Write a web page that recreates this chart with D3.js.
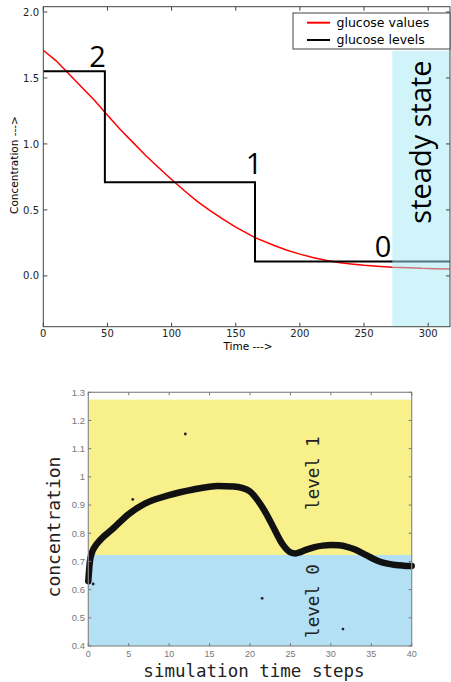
<!DOCTYPE html>
<html>
<head>
<meta charset="utf-8">
<script src="https://cdn.jsdelivr.net/npm/d3@7"></script>
<style>
  html, body { margin: 0; padding: 0; background: #fff; }
  svg { display: block; }
</style>
</head>
<body>
<svg id="chart" width="451" height="682"></svg>
<script>
// ---------- Top chart data ----------
const glucoseTime  = [0, 10, 20, 30, 40, 48, 60, 70, 80, 90, 100, 110, 120, 130, 140, 150, 165, 180, 190, 200, 210, 220, 230, 240, 250, 260, 272, 285, 295, 305, 317];
const glucoseValue = [1.71, 1.63, 1.53, 1.43, 1.33, 1.24, 1.11, 1.01, 0.91, 0.82, 0.73, 0.645, 0.565, 0.495, 0.43, 0.37, 0.29, 0.23, 0.195, 0.165, 0.14, 0.118, 0.102, 0.09, 0.08, 0.073, 0.066, 0.062, 0.057, 0.055, 0.053];
const levelTimes   = [0, 48, 165, 317];
const levelValues  = [1.55, 0.71, 0.11];
const levelLabels  = ["2", "1", "0"];
const steadyStart  = 272;
const topXTicks = [0, 50, 100, 150, 200, 250, 300];
const topYTicks = [0.0, 0.5, 1.0, 1.5, 2.0];
const legendNames = ["glucose values", "glucose levels"];

// ---------- Bottom chart data ----------
const simTime  = [0, 0.2, 0.5, 0.8, 1.5, 3, 5, 7, 10, 13, 16, 18, 19, 20, 21, 22, 23, 24, 25, 25.6, 26, 27, 28, 29, 30, 31, 32, 33, 34, 35, 36, 37, 38, 39, 40];
const simConc  = [0.63, 0.70, 0.735, 0.752, 0.777, 0.815, 0.868, 0.905, 0.935, 0.955, 0.968, 0.966, 0.961, 0.948, 0.915, 0.87, 0.815, 0.762, 0.732, 0.728, 0.731, 0.742, 0.751, 0.756, 0.758, 0.757, 0.752, 0.742, 0.728, 0.713, 0.70, 0.692, 0.687, 0.685, 0.684];
const outlierTime = [0.6, 5.5, 12.0, 21.5, 31.5];
const outlierConc = [0.62, 0.92, 1.152, 0.569, 0.46];
const bandLevels = [0.4, 0.723, 1.274];
const bandNames  = ["level 0", "level 1"];
const botXTicks = [0, 5, 10, 15, 20, 25, 30, 35, 40];
const botYTicks = [0.4, 0.5, 0.6, 0.7, 0.8, 0.9, 1.0, 1.1, 1.2, 1.3];

const svg = d3.select("#chart");

// ================= TOP CHART =================
{
  const L = 43.3, R = 450, T = 6.7, B = 326.7;
  const x = d3.scaleLinear().domain([0, 317]).range([L, R]);
  const y = d3.scaleLinear().domain([-0.385, 2.04]).range([B, T]);
  const g = svg.append("g");

  const redLine = d3.line().x((d, i) => x(glucoseTime[i])).y(d => y(d));
  g.append("path").datum(glucoseValue)
    .attr("d", redLine).attr("fill", "none")
    .attr("stroke", "#ff0000").attr("stroke-width", 1.5);

  const stepPts = levelValues.map((v, i) => [levelTimes[i], v]);
  stepPts.push([levelTimes[levelTimes.length - 1], levelValues[levelValues.length - 1]]);
  const stepLine = d3.line().x(d => x(d[0])).y(d => y(d[1])).curve(d3.curveStepAfter);
  g.append("path").datum(stepPts)
    .attr("d", stepLine).attr("fill", "none")
    .attr("stroke", "#000").attr("stroke-width", 2);

  g.append("rect")
    .attr("x", x(steadyStart)).attr("y", y(1.705))
    .attr("width", x(317) - x(steadyStart)).attr("height", y(-0.385) - y(1.705))
    .attr("fill", "rgb(161,233,245)").attr("fill-opacity", 0.5);

  g.append("text")
    .attr("transform", `translate(431,142) rotate(-90)`)
    .attr("text-anchor", "middle")
    .attr("font-family", "Open Sans").attr("font-size", 29)
    .attr("fill", "#000").text("steady state");

  const labelPos = [[97.5, 67], [254, 174], [383, 257]];
  levelLabels.forEach((t, i) => {
    g.append("text").attr("x", labelPos[i][0]).attr("y", labelPos[i][1])
      .attr("text-anchor", "middle")
      .attr("font-family", "Open Sans").attr("font-size", 29)
      .attr("fill", "#000").text(t);
  });

  g.append("rect").attr("x", L).attr("y", T).attr("width", R - L).attr("height", B - T)
    .attr("fill", "none").attr("stroke", "#444").attr("stroke-width", 1);

  const tl = 4;
  topXTicks.forEach(v => {
    g.append("line").attr("x1", x(v)).attr("x2", x(v)).attr("y1", B).attr("y2", B - tl).attr("stroke", "#444");
    g.append("line").attr("x1", x(v)).attr("x2", x(v)).attr("y1", T).attr("y2", T + tl).attr("stroke", "#444");
    g.append("text").attr("x", x(v)).attr("y", 337)
      .attr("text-anchor", "middle").attr("font-family", "DejaVu Sans").attr("font-size", 10)
      .attr("fill", "#222").text(v);
  });
  topYTicks.forEach(v => {
    g.append("line").attr("x1", L).attr("x2", L + tl).attr("y1", y(v)).attr("y2", y(v)).attr("stroke", "#444");
    g.append("line").attr("x1", R).attr("x2", R - tl).attr("y1", y(v)).attr("y2", y(v)).attr("stroke", "#444");
    g.append("text").attr("x", 39).attr("y", y(v)).attr("dy", "0.36em")
      .attr("text-anchor", "end").attr("font-family", "DejaVu Sans").attr("font-size", 10)
      .attr("fill", "#222").text(d3.format(".1f")(v));
  });

  g.append("text").attr("x", 248).attr("y", 350)
    .attr("text-anchor", "middle").attr("font-family", "DejaVu Sans").attr("font-size", 10.5)
    .attr("fill", "#000").text("Time --->");
  g.append("text").attr("transform", "translate(17.5,165) rotate(-90)")
    .attr("text-anchor", "middle").attr("font-family", "DejaVu Sans").attr("font-size", 10.5)
    .attr("fill", "#000").text("Concentration --->");

  const lg = g.append("g");
  lg.append("rect").attr("x", 293).attr("y", 13).attr("width", 157).attr("height", 36)
    .attr("fill", "#fff").attr("stroke", "#444").attr("stroke-width", 1);
  const legColors = ["#ff0000", "#000"];
  legendNames.forEach((n, i) => {
    const yy = 22.7 + i * 17.3;
    lg.append("line").attr("x1", 307).attr("x2", 330).attr("y1", yy).attr("y2", yy)
      .attr("stroke", legColors[i]).attr("stroke-width", 2);
    lg.append("text").attr("x", 336.5).attr("y", yy).attr("dy", "0.35em")
      .attr("font-family", "DejaVu Sans").attr("font-size", 12.5).attr("fill", "#000").text(n);
  });
}

// ================= BOTTOM CHART =================
{
  const L = 88.3, R = 411.7, T = 392.3, B = 646;
  const x = d3.scaleLinear().domain([0, 40]).range([L, R]);
  const y = d3.scaleLinear().domain([0.4, 1.3]).range([B, T]);
  const g = svg.append("g");

  const bandColors = ["#b3e0f5", "#f8f08a"];
  for (let i = 0; i < 2; i++) {
    g.append("rect").attr("x", L).attr("y", y(bandLevels[i + 1]))
      .attr("width", R - L).attr("height", y(bandLevels[i]) - y(bandLevels[i + 1]))
      .attr("fill", bandColors[i]);
  }

  const bandLabelY = [601, 473];
  bandNames.forEach((n, i) => {
    g.append("text").attr("transform", `translate(319,${bandLabelY[i]}) rotate(-90)`)
      .attr("text-anchor", "middle").attr("font-family", "DejaVu Sans Mono")
      .attr("font-size", 17.5).attr("fill", "#222").text(n);
  });

  const curve = d3.line().x((d, i) => x(simTime[i])).y(d => y(d)).curve(d3.curveMonotoneX);
  g.append("path").datum(simConc).attr("d", curve).attr("fill", "none")
    .attr("stroke", "#111").attr("stroke-width", 6.5)
    .attr("stroke-linecap", "round").attr("stroke-linejoin", "round");

  outlierTime.forEach((t, i) => {
    g.append("circle").attr("cx", x(t)).attr("cy", y(outlierConc[i])).attr("r", 1.4).attr("fill", "#222");
  });

  g.append("rect").attr("x", L).attr("y", T).attr("width", R - L).attr("height", B - T)
    .attr("fill", "none").attr("stroke", "#8a8a8a").attr("stroke-width", 1.2);

  const tl = 3;
  botXTicks.forEach(v => {
    g.append("line").attr("x1", x(v)).attr("x2", x(v)).attr("y1", B).attr("y2", B - tl).attr("stroke", "#777");
    g.append("line").attr("x1", x(v)).attr("x2", x(v)).attr("y1", T).attr("y2", T + tl).attr("stroke", "#777");
    g.append("text").attr("x", x(v)).attr("y", 657)
      .attr("text-anchor", "middle").attr("font-family", "Liberation Sans").attr("font-size", 9)
      .attr("fill", "#777").text(v);
  });
  botYTicks.forEach(v => {
    g.append("line").attr("x1", L).attr("x2", L + tl).attr("y1", y(v)).attr("y2", y(v)).attr("stroke", "#777");
    g.append("line").attr("x1", R).attr("x2", R - tl).attr("y1", y(v)).attr("y2", y(v)).attr("stroke", "#777");
    g.append("text").attr("x", 85).attr("y", y(v)).attr("dy", "0.35em")
      .attr("text-anchor", "end").attr("font-family", "Liberation Sans").attr("font-size", 9.5)
      .attr("fill", "#777").text(String(+v.toFixed(1)));
  });

  g.append("text").attr("x", 254).attr("y", 677)
    .attr("text-anchor", "middle").attr("font-family", "DejaVu Sans Mono").attr("font-size", 17.5)
    .attr("fill", "#222").text("simulation time steps");
  g.append("text").attr("transform", "translate(60,527) rotate(-90)")
    .attr("text-anchor", "middle").attr("font-family", "DejaVu Sans Mono").attr("font-size", 18)
    .attr("fill", "#222").text("concentration");
}
</script>
</body>
</html>
